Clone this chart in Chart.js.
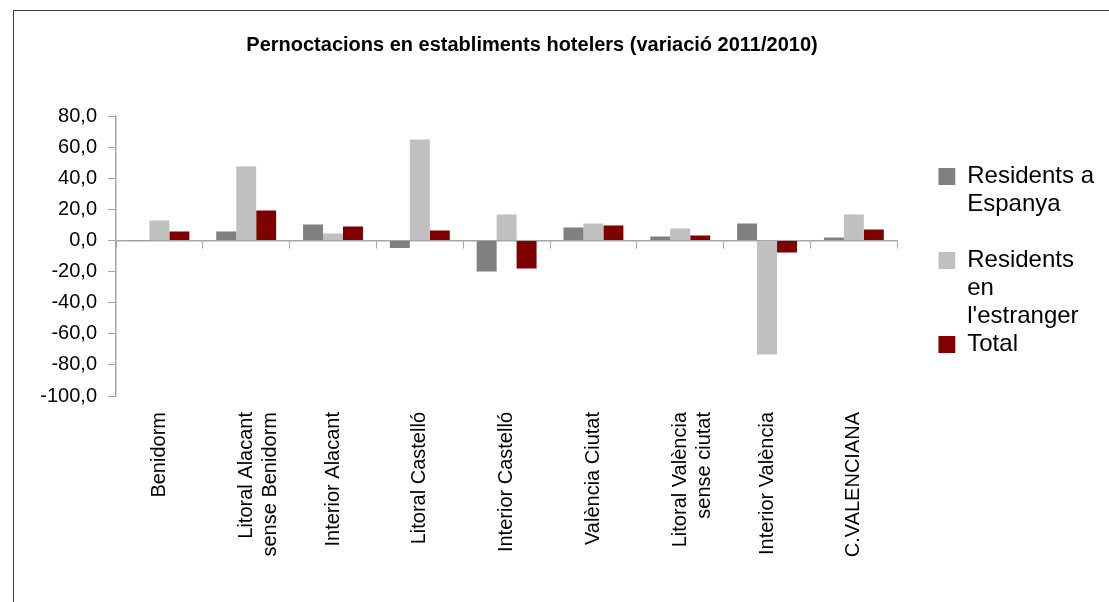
<!DOCTYPE html>
<html lang="ca">
<head>
<meta charset="UTF-8">
<title>Pernoctacions en establiments hotelers</title>
<script src="https://cdn.jsdelivr.net/npm/chart.js@4.4.0/dist/chart.umd.min.js"></script>
<style>
  body { margin: 0; background: #fff; }
  #wrap { position: relative; width: 1109px; height: 602px; overflow: hidden; }
  #chart { position: absolute; left: 0; top: 0; }
  #frame { position: absolute; left: 13px; top: 10px; width: 1200px; height: 700px;
           border: 1px solid #3c3c3c; pointer-events: none; }
</style>
</head>
<body>
<div id="wrap">
  <canvas id="chart" width="1109" height="602"></canvas>
  <div id="frame"></div>
</div>
<script>
// data (variació 2011/2010, %)
const categories = [
  'Benidorm',
  ['Litoral Alacant', 'sense Benidorm'],
  'Interior Alacant',
  'Litoral Castelló',
  'Interior Castelló',
  'València Ciutat',
  ['Litoral València', 'sense ciutat'],
  'Interior València',
  'C.VALENCIANA'
];
const residentsEspanya   = [0.2, 5.8, 10.3, -4.9, -19.9, 8.4, 2.6, 10.9, 1.9];
const residentsEstranger = [12.9, 47.6, 4.5, 64.9, 16.7, 10.9, 7.7, -73.3, 16.7];
const total              = [5.8, 19.3, 9.0, 6.4, -18.0, 9.6, 3.2, -7.7, 7.1];

const seriesNames  = ['Residents a Espanya', "Residents en l'estranger", 'Total'];
const seriesColors = ['#808080', '#c0c0c0', '#800000'];

const yMin = -100, yMax = 80, yStep = 20;

const FONT = "'Liberation Sans', Arial, sans-serif";

// wrap legend text the way the spreadsheet did
function wrapText(text, maxWidth, font) {
  const c = document.createElement('canvas').getContext('2d');
  c.font = font;
  const words = text.split(' ');
  const lines = [];
  let line = '';
  words.forEach(w => {
    const test = line ? line + ' ' + w : w;
    if (line && c.measureText(test).width > maxWidth) {
      lines.push(line);
      line = w;
    } else {
      line = test;
    }
  });
  lines.push(line);
  return lines;
}

const legendLines = seriesNames.map((name, i) => {
  const lines = wrapText(name, 135, '24px ' + FONT);
  // every entry gets the same 3-line slot except the last one
  if (i < seriesNames.length - 1) {
    while (lines.length < 3) lines.push('');
    return lines;
  }
  return name;
});

const ctx = document.getElementById('chart').getContext('2d');
const seriesData = [residentsEspanya, residentsEstranger, total];

new Chart(ctx, {
  type: 'bar',
  data: {
    labels: categories,
    datasets: seriesNames.map((name, i) => ({
      label: name,
      data: seriesData[i],
      backgroundColor: seriesColors[i],
      borderWidth: 0,
      categoryPercentage: 0.69,
      barPercentage: 1.0
    }))
  },
  options: {
    responsive: false,
    animation: false,
    layout: { padding: { left: -40, right: 5, top: 0, bottom: 0 } },
    scales: {
      x: {
        ticks: {
          color: '#000',
          font: { family: FONT, size: 20, lineHeight: 1.2 },
          maxRotation: 90,
          minRotation: 90,
          autoSkip: false,
          padding: 16
        },
        grid: { display: false, drawTicks: false },
        border: { display: false },
        afterFit: s => { s.height = 206; }
      },
      x2: {
        type: 'category',
        position: { y: 0 },
        offset: true,
        z: 1,
        ticks: { display: false },
        grid: {
          offset: true,
          drawOnChartArea: false,
          drawTicks: true,
          tickLength: 7,
          color: '#a6a6a6'
        },
        border: { display: true, color: '#a6a6a6', width: 1.5 }
      },
      y: {
        min: yMin,
        max: yMax,
        ticks: {
          stepSize: yStep,
          color: '#000',
          font: { family: FONT, size: 20 },
          padding: 11,
          callback: v => v.toFixed(1).replace('.', ',')
        },
        grid: {
          drawOnChartArea: false,
          drawTicks: true,
          tickLength: 8,
          color: '#a6a6a6'
        },
        border: { display: true, color: '#a6a6a6', width: 1.5 },
        afterFit: s => { s.width = 156; }
      },
      yRight: {
        type: 'linear',
        position: 'right',
        ticks: { display: false },
        grid: { display: false },
        border: { display: false },
        afterFit: s => { s.width = 41; }
      }
    },
    plugins: {
      title: {
        display: true,
        text: 'Pernoctacions en establiments hotelers (variació 2011/2010)',
        color: '#000',
        font: { family: FONT, size: 20, weight: 'bold', lineHeight: 1.2 },
        padding: { top: 33, bottom: 59 }
      },
      legend: {
        position: 'right',
        align: 'start',
        fullSize: false,
        title: {
          display: true,
          text: '',
          font: { size: 10, lineHeight: 1 },
          padding: { top: 38.5, bottom: 0 }
        },
        labels: {
          boxWidth: 17,
          boxHeight: 17,
          padding: 0,
          color: '#000',
          font: { family: FONT, size: 24, lineHeight: 28 / 24 },
          generateLabels: chart => {
            const items = Chart.defaults.plugins.legend.labels.generateLabels(chart);
            items.forEach((item, i) => {
              item.text = legendLines[i];
              item.lineWidth = 0;
            });
            return items;
          }
        }
      },
      tooltip: { enabled: false }
    }
  }
});
</script>
</body>
</html>
